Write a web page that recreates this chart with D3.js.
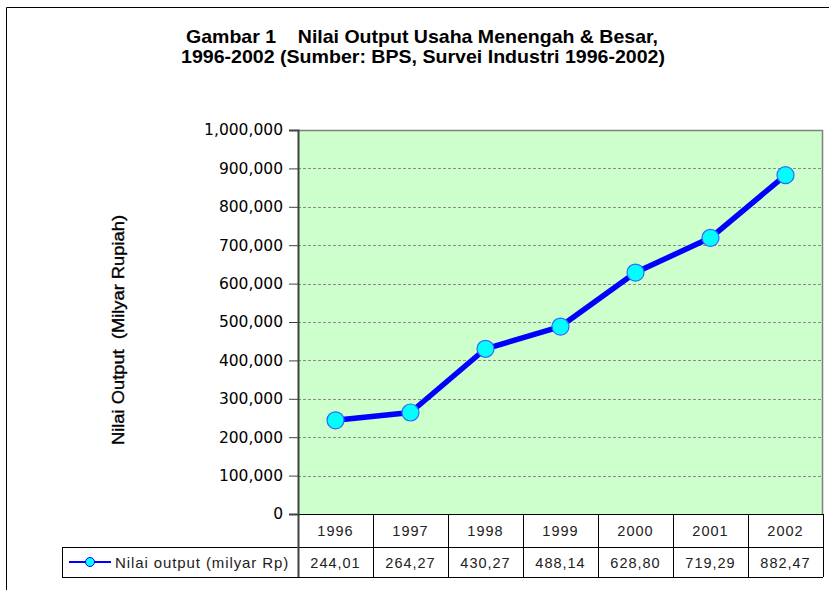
<!DOCTYPE html>
<html><head><meta charset="utf-8">
<script src="https://cdn.jsdelivr.net/npm/d3@7"></script>
<style>body{margin:0;background:#fff}svg{display:block;font-family:"Liberation Sans",Arial,sans-serif}</style>
</head><body>
<script>
const years = ["1996","1997","1998","1999","2000","2001","2002"];
const values = [244010, 264270, 430270, 488140, 628800, 719290, 882470];
const yTicks = [0,100000,200000,300000,400000,500000,600000,700000,800000,900000,1000000];
const titleLines = ["Gambar 1    Nilai Output Usaha Menengah & Besar,", "1996-2002 (Sumber: BPS, Survei Industri 1996-2002)"];
const seriesName = "Nilai output (milyar Rp)";
const yTitle = "Nilai Output  (Milyar Rupiah)";

const W = 829, H = 590;
const svg = d3.select("body").append("svg").attr("width", W).attr("height", H);

// outer frame
svg.append("path").attr("d", `M6.5,${H} V7.5 H${W}`).attr("fill","none").attr("stroke","#000").attr("stroke-width",1);

const L = 298, R = 823, T = 130, B = 514;
const x = d3.scaleBand().domain(years).range([L, R]);
const y = d3.scaleLinear().domain([0, 1000000]).range([B, T]);

// plot background
svg.append("rect").attr("x", L).attr("y", T).attr("width", R-L).attr("height", B-T).attr("fill", "#CCFFCC");
// gridlines
svg.append("g").selectAll("line").data(yTicks.filter(d => d > 0 && d < 1000000)).join("line")
  .attr("x1", L).attr("x2", R).attr("y1", d => Math.round(y(d))+0.5).attr("y2", d => Math.round(y(d))+0.5)
  .attr("stroke", "#8c8c8c").attr("stroke-dasharray", "3,2").attr("stroke-width", 1);
// plot border (top/right)
svg.append("path").attr("d", `M${L},${T+0.5} H${R-0.5} V${B}`).attr("fill","none").attr("stroke","#808080").attr("stroke-width",1.5);

// y axis
const yAxis = d3.axisLeft(y).tickValues(yTicks).tickSize(9).tickPadding(6).tickFormat(d3.format(","));
const ga = svg.append("g").attr("transform", `translate(${L},0)`).call(yAxis);
ga.select(".domain").attr("stroke", "#404040").attr("stroke-width", 2);
ga.selectAll(".tick line").attr("stroke", "#404040");
ga.selectAll(".tick text").attr("font-size", 15.5).attr("fill", "#000").attr("font-family", "DejaVu Sans, Verdana, sans-serif");

// table
const rowH1 = 33, rowH2 = 30;
const tb = svg.append("g");
const gridColor = "#000";
tb.append("line").attr("x1", L).attr("x2", R).attr("y1", B+0.5).attr("y2", B+0.5).attr("stroke", gridColor);
tb.append("line").attr("x1", 62).attr("x2", R).attr("y1", B+rowH1+0.5).attr("y2", B+rowH1+0.5).attr("stroke", gridColor);
tb.append("line").attr("x1", 62).attr("x2", R).attr("y1", B+rowH1+rowH2+0.5).attr("y2", B+rowH1+rowH2+0.5).attr("stroke", gridColor);
const colEdges = years.map(d => x(d)).concat([R]);
tb.selectAll("line.v").data(colEdges).join("line").attr("class","v")
  .attr("x1", d => Math.round(d)+0.5).attr("x2", d => Math.round(d)+0.5)
  .attr("y1", B).attr("y2", B+rowH1+rowH2).attr("stroke", (d,i) => i===0 ? "#404040" : gridColor)
  .attr("stroke-width", (d,i) => i===0 ? 2 : 1);
tb.append("line").attr("x1", 62.5).attr("x2", 62.5).attr("y1", B+rowH1).attr("y2", B+rowH1+rowH2).attr("stroke", gridColor);

tb.selectAll("text.yr").data(years).join("text").attr("class","yr")
  .attr("x", d => x(d) + x.bandwidth()/2).attr("y", B + rowH1/2 + 5.5)
  .attr("text-anchor","middle").attr("font-size", 14.5).attr("letter-spacing", 1).attr("fill", "#222").text(d => d);
tb.selectAll("text.val").data(values).join("text").attr("class","val")
  .attr("x", (d,i) => x(years[i]) + x.bandwidth()/2).attr("y", B + rowH1 + rowH2/2 + 5.5)
  .attr("text-anchor","middle").attr("font-size", 14.5).attr("letter-spacing", 1).attr("fill", "#222")
  .text(d => (d/1000).toFixed(2).replace(".", ","));

// legend key
const ly = B + rowH1 + rowH2/2;
tb.append("line").attr("x1", 69).attr("x2", 111).attr("y1", ly).attr("y2", ly).attr("stroke", "#0000FF").attr("stroke-width", 2);
tb.append("circle").attr("cx", 90).attr("cy", ly).attr("r", 4.5).attr("fill", "#00FFFF").attr("stroke", "#0000FF").attr("stroke-width", 1);
tb.append("text").attr("x", 115).attr("y", ly + 5.5).attr("font-size", 15).attr("letter-spacing", 0.9).attr("fill", "#222").text(seriesName);

// line series
const cx = i => x(years[i]) + x.bandwidth()/2;
svg.append("path").datum(values)
  .attr("d", d3.line().x((d,i) => cx(i)).y(d => y(d)))
  .attr("fill","none").attr("stroke","#0000FF").attr("stroke-width",5.5).attr("stroke-linejoin","round");
svg.append("g").selectAll("circle").data(values).join("circle")
  .attr("cx", (d,i) => cx(i)).attr("cy", d => y(d)).attr("r", 8.5)
  .attr("fill", "#00FFFF").attr("stroke", "#3366FF").attr("stroke-width", 1.2);

// y title
svg.append("text").attr("transform", `translate(124,${330}) rotate(-90)`)
  .attr("text-anchor","middle").attr("font-size", 17).attr("fill","#000")
  .attr("stroke","#000").attr("stroke-width",0.35)
  .attr("textLength", 230).attr("lengthAdjust","spacingAndGlyphs")
  .attr("xml:space","preserve").style("white-space","pre").text(yTitle);

// title
const titleW = [472, 484];
svg.append("g").selectAll("text").data(titleLines).join("text")
  .attr("x", (d,i) => i===0 ? 422 : 423).attr("y", (d,i) => 43 + i*20).attr("text-anchor","middle")
  .attr("font-size", 19).attr("font-weight","bold").attr("fill","#000")
  .attr("textLength", (d,i) => titleW[i]).attr("lengthAdjust","spacingAndGlyphs")
  .attr("xml:space","preserve").style("white-space","pre").text(d => d);
</script>
</body></html>
